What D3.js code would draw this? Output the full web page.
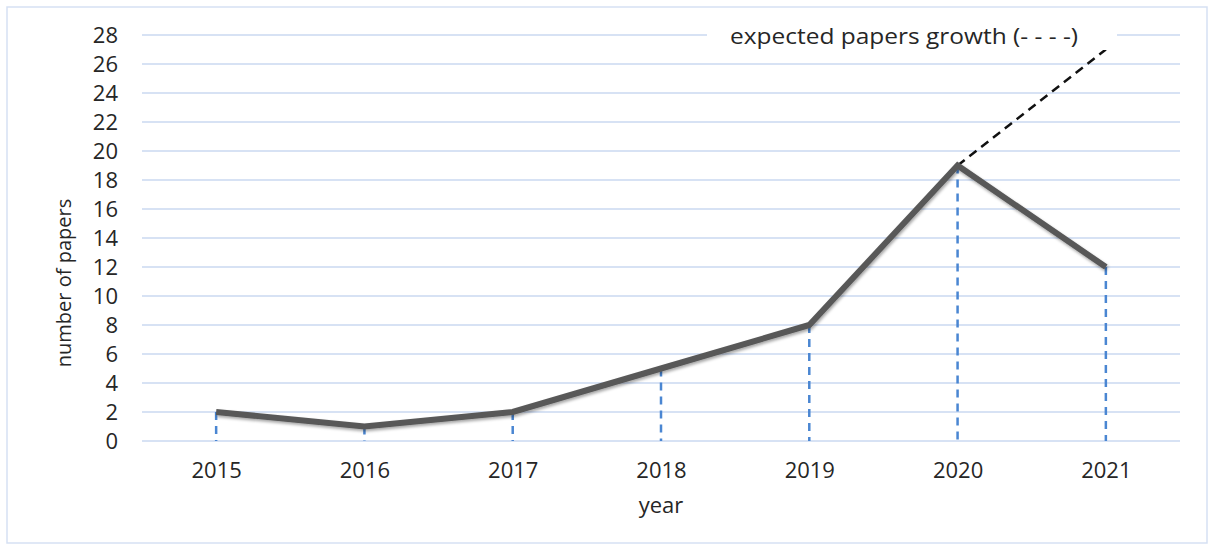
<!DOCTYPE html>
<html>
<head>
<meta charset="utf-8">
<script src="https://cdn.jsdelivr.net/npm/d3@7"></script>
<style>
  body { margin: 0; background: #fff; }
  text { font-family: "Open Sans", sans-serif; fill: #262626; }
</style>
</head>
<body>
<div id="chart"></div>
<script>
// Data
let years = ['2015', '2016', '2017', '2018', '2019', '2020', '2021'];
let papers = [2, 1, 2, 5, 8, 19, 12];
let expectedYears = ['2020', '2021'];
let expected = [19, 27];
let yTicks = [0, 2, 4, 6, 8, 10, 12, 14, 16, 18, 20, 22, 24, 26, 28];

// Layout
let width = 1211;
let height = 545;
let plotLeft = 142, plotRight = 1180, plotTop = 35, plotBottom = 441;

let svg = d3.select('#chart').append('svg').attr('width', width).attr('height', height);

let defs = svg.append('defs');
let shadow = defs.append('filter').attr('id', 'shadow')
  .attr('x', '-5%').attr('y', '-20%').attr('width', '110%').attr('height', '140%');
shadow.append('feDropShadow')
  .attr('dx', 1).attr('dy', 2).attr('stdDeviation', 1.5)
  .attr('flood-color', '#000').attr('flood-opacity', 0.35);

// outer frame
svg.append('rect')
  .attr('x', 7).attr('y', 7)
  .attr('width', 1200).attr('height', 536)
  .style('fill', 'none').style('stroke', '#d6e1f3').style('stroke-width', 1.5);

let x = d3.scalePoint().domain(years).range([plotLeft, plotRight]).padding(0.5);
let y = d3.scaleLinear().domain([0, 28]).range([plotBottom, plotTop]);

// grid lines
svg.append('g')
  .selectAll('line')
  .data(yTicks)
  .join('line')
  .attr('x1', plotLeft)
  .attr('x2', plotRight)
  .attr('y1', d => y(d))
  .attr('y2', d => y(d))
  .style('stroke', '#cad8f1')
  .style('stroke-width', 1.5);

// y axis labels
svg.append('g')
  .attr('transform', 'translate(118,0)')
  .call(d3.axisLeft(y).tickValues(yTicks).tickSize(0).tickPadding(0))
  .call(g => g.select('.domain').remove())
  .selectAll('text')
  .style('font-size', '22px')
  .style('font-family', '"Open Sans", sans-serif')
  .style('fill', '#262626')
  .attr('dy', '0.35em');

// x axis labels
svg.append('g')
  .attr('transform', 'translate(0,' + plotBottom + ')')
  .call(d3.axisBottom(x).tickSize(0).tickPadding(0))
  .call(g => g.select('.domain').remove())
  .selectAll('text')
  .style('font-size', '22px')
  .style('font-family', '"Open Sans", sans-serif')
  .style('fill', '#262626')
  .attr('y', 37)
  .attr('dy', 0);

// axis titles
svg.append('text')
  .attr('x', 661)
  .attr('y', 513)
  .attr('text-anchor', 'middle')
  .style('font-size', '22px')
  .text('year');

svg.append('text')
  .attr('transform', 'translate(71,283) rotate(-90)')
  .attr('text-anchor', 'middle')
  .style('font-size', '20px')
  .text('number of papers');

// drop lines
svg.append('g')
  .selectAll('line')
  .data(years)
  .join('line')
  .attr('x1', d => x(d))
  .attr('x2', d => x(d))
  .attr('y1', (d, i) => y(papers[i]))
  .attr('y2', y(0))
  .style('stroke', '#4a86d2')
  .style('stroke-width', 2.5)
  .style('stroke-dasharray', '8,6');

// expected growth
let expLine = d3.line()
  .x((d, i) => x(expectedYears[i]))
  .y(d => y(d));

svg.append('path')
  .datum(expected)
  .attr('d', expLine)
  .style('fill', 'none')
  .style('stroke', '#111')
  .style('stroke-width', 2.5)
  .style('stroke-dasharray', '9,6');

// main line
let line = d3.line()
  .x((d, i) => x(years[i]))
  .y(d => y(d));

svg.append('path')
  .datum(papers)
  .attr('d', line)
  .attr('filter', 'url(#shadow)')
  .style('fill', 'none')
  .style('stroke', '#595959')
  .style('stroke-width', 6)
  .style('stroke-linejoin', 'miter');

// legend note
svg.append('rect')
  .attr('x', 707).attr('y', 22)
  .attr('width', 410).attr('height', 28)
  .style('fill', '#fff');

svg.append('text')
  .attr('x', 730)
  .attr('y', 44)
  .attr('textLength', 348)
  .attr('lengthAdjust', 'spacingAndGlyphs')
  .style('font-size', '21px')
  .text('expected papers growth (- - - -)');
</script>
</body>
</html>
